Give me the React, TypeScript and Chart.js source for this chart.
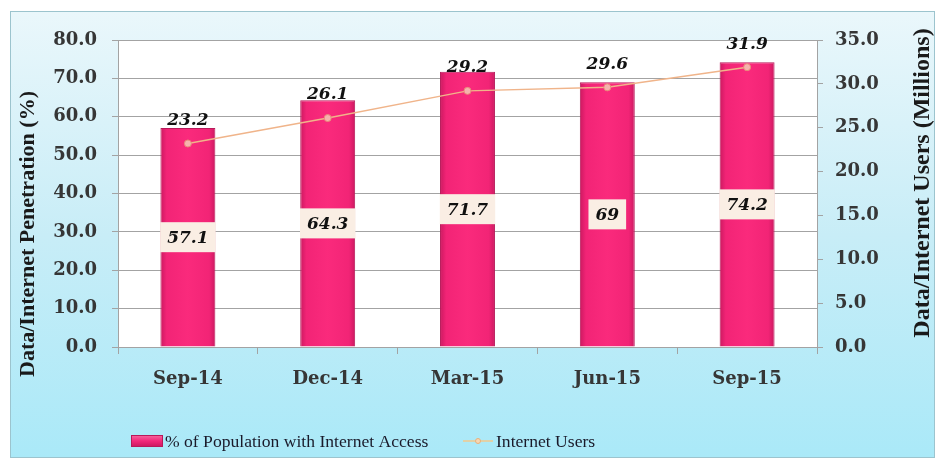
import React, { useEffect, useRef } from "react";
import { Chart, registerables } from "chart.js";

Chart.register(...registerables);

const categories = ["Sep-14", "Dec-14", "Mar-15", "Jun-15", "Sep-15"];
const penetration = [57.1, 64.3, 71.7, 69, 74.2];
const users = [23.2, 26.1, 29.2, 29.6, 31.9];
const seriesNames = ["% of Population with Internet Access", "Internet Users"];
const leftTitle = "Data/Internet Penetration (%)";
const rightTitle = "Data/Internet Users (Millions)";

const BAR_COLOR = "#F7257A";
const BAR_BORDER = "#B8195A";
const LINE_COLOR = "#F0B48A";
const TICK_FONT = { family: "'DejaVu Serif', serif", size: 18, weight: "bold" as const };
const TICK_COLOR = "#363636";
const GRID = "#a3a3a3";

const barFill = (c: any) => {
  const chart = c.chart;
  const xs = chart.scales && chart.scales.x;
  if (!xs || !chart.chartArea || c.dataIndex === undefined) return BAR_COLOR;
  const cx = xs.getPixelForValue(c.dataIndex);
  if (!isFinite(cx)) return BAR_COLOR;
  const half = 28;
  const g = chart.ctx.createLinearGradient(cx - half, 0, cx + half, 0);
  g.addColorStop(0, "#C8185E");
  g.addColorStop(0.12, "#F22476");
  g.addColorStop(0.5, "#FA2A7C");
  g.addColorStop(0.88, "#F22476");
  g.addColorStop(1, "#C8185E");
  return g;
};

const areaBg = {
  id: "areaBg",
  beforeDraw(chart: any) {
    const { ctx, chartArea } = chart;
    ctx.save();
    ctx.fillStyle = "#ffffff";
    ctx.fillRect(chartArea.left, chartArea.top, chartArea.right - chartArea.left, chartArea.bottom - chartArea.top);
    ctx.restore();
  },
};

const valueLabels = {
  id: "valueLabels",
  afterDatasetsDraw(chart: any) {
    const { ctx } = chart;
    ctx.save();
    ctx.font = "italic bold 17px 'DejaVu Serif', serif";
    ctx.textAlign = "center";
    ctx.textBaseline = "middle";
    chart.data.datasets.forEach((ds: any, di: number) => {
      const meta = chart.getDatasetMeta(di);
      meta.data.forEach((el: any, i: number) => {
        const txt = String(ds.data[i]);
        if (ds.type === "bar") {
          const cy = (el.y + el.base) / 2;
          const w = ctx.measureText(txt).width + 14;
          const h = 30;
          ctx.fillStyle = "#FAEEE4";
          ctx.fillRect(el.x - w / 2, cy - h / 2, w, h);
          ctx.fillStyle = "#111111";
          ctx.fillText(txt, el.x, cy + 1);
        } else {
          ctx.fillStyle = "#111111";
          ctx.fillText(txt, el.x, el.y - 23);
        }
      });
    });
    ctx.restore();
  },
};

const titlesAndLegend = {
  id: "titlesAndLegend",
  afterDraw(chart: any) {
    const { ctx } = chart;
    ctx.save();
    ctx.fillStyle = "#1a1a1a";
    ctx.textAlign = "center";
    ctx.textBaseline = "middle";
    ctx.font = "bold 22px 'Liberation Serif', serif";
    ctx.save();
    ctx.translate(28, 234);
    ctx.rotate(-Math.PI / 2);
    ctx.fillText(leftTitle, 0, 0);
    ctx.restore();
    ctx.font = "bold 24px 'Liberation Serif', serif";
    ctx.save();
    ctx.translate(923, 183);
    ctx.rotate(-Math.PI / 2);
    ctx.fillText(rightTitle, 0, 0);
    ctx.restore();

    // legend
    const ly = 441;
    const lg = ctx.createLinearGradient(0, ly - 6, 0, ly + 6);
    lg.addColorStop(0, "#F56AA0");
    lg.addColorStop(0.5, "#F2287A");
    lg.addColorStop(1, "#C8185E");
    ctx.fillStyle = lg;
    ctx.fillRect(131, ly - 6, 32, 12);
    ctx.strokeStyle = BAR_BORDER;
    ctx.lineWidth = 1;
    ctx.strokeRect(131.5, ly - 5.5, 31, 11);
    ctx.font = "17.6px 'Liberation Serif', serif";
    ctx.textAlign = "left";
    ctx.fillStyle = "#1a1a2a";
    ctx.fillText(seriesNames[0], 165, ly + 1);
    ctx.strokeStyle = "#F3C98E";
    ctx.lineWidth = 1.5;
    ctx.beginPath();
    ctx.moveTo(463, ly);
    ctx.lineTo(493, ly);
    ctx.stroke();
    ctx.beginPath();
    ctx.arc(478, ly, 2.5, 0, Math.PI * 2);
    ctx.fillStyle = "#F6D7B5";
    ctx.fill();
    ctx.strokeStyle = "#E8B07A";
    ctx.lineWidth = 1;
    ctx.stroke();
    ctx.fillStyle = "#1a1a2a";
    ctx.fillText(seriesNames[1], 496, ly + 1);
    ctx.restore();
  },
};

export default function App() {
  const ref = useRef<HTMLCanvasElement | null>(null);
  useEffect(() => {
    if (!ref.current) return;
    const chart = new Chart(ref.current, {
      type: "bar",
      data: {
        labels: categories,
        datasets: [
          {
            type: "bar",
            label: seriesNames[0],
            data: penetration,
            backgroundColor: barFill,
            borderColor: BAR_BORDER,
            borderWidth: 1,
            barPercentage: 0.393,
            categoryPercentage: 1,
            yAxisID: "y",
            order: 2,
          } as any,
          {
            type: "line",
            label: seriesNames[1],
            data: users,
            borderColor: LINE_COLOR,
            borderWidth: 1.5,
            pointRadius: 3.5,
            pointBackgroundColor: "#F6B2AE",
            pointBorderColor: "#E88A78",
            pointBorderWidth: 1,
            yAxisID: "y1",
            order: 1,
          } as any,
        ],
      },
      options: {
        responsive: false,
        animation: false,
        devicePixelRatio: 1,
        layout: { padding: { top: 40, left: 0, right: 0, bottom: 0 } },
        plugins: { legend: { display: false }, tooltip: { enabled: false } },
        scales: {
          x: {
            grid: { drawOnChartArea: false, drawTicks: true, tickLength: 7, color: GRID, offset: true },
            border: { color: GRID },
            ticks: { font: TICK_FONT, color: TICK_COLOR, padding: 15, maxRotation: 0 },
            afterFit: (s: any) => {
              s.height = 119;
            },
          },
          y: {
            position: "left",
            min: 0,
            max: 80,
            ticks: {
              stepSize: 10,
              callback: (v: any) => Number(v).toFixed(1),
              font: TICK_FONT,
              color: TICK_COLOR,
              padding: 15,
            },
            grid: { color: GRID, tickLength: 6 },
            border: { color: GRID },
            afterFit: (s: any) => {
              s.width = 118;
            },
          },
          y1: {
            position: "right",
            min: 0,
            max: 35,
            ticks: {
              stepSize: 5,
              callback: (v: any) => Number(v).toFixed(1),
              font: TICK_FONT,
              color: TICK_COLOR,
              padding: 12,
            },
            grid: { drawOnChartArea: false, tickLength: 6, color: GRID },
            border: { color: GRID },
            afterFit: (s: any) => {
              s.width = 124;
            },
          },
        },
      } as any,
      plugins: [areaBg, valueLabels, titlesAndLegend],
    });
    return () => chart.destroy();
  }, []);

  return (
    <div style={{ position: "fixed", left: 0, top: 0, width: 941, height: 466, background: "#ffffff" }}>
      <div
        style={{
          position: "absolute",
          left: 10,
          top: 11,
          width: 923,
          height: 445,
          border: "1px solid #9cc4ce",
          background: "linear-gradient(180deg, #EAF7FB 0%, #C8EDF7 50%, #AAE9F8 100%)",
        }}
      />
      <canvas ref={ref} width={941} height={466} style={{ position: "absolute", left: 0, top: 0, width: 941, height: 466 }} />
    </div>
  );
}
